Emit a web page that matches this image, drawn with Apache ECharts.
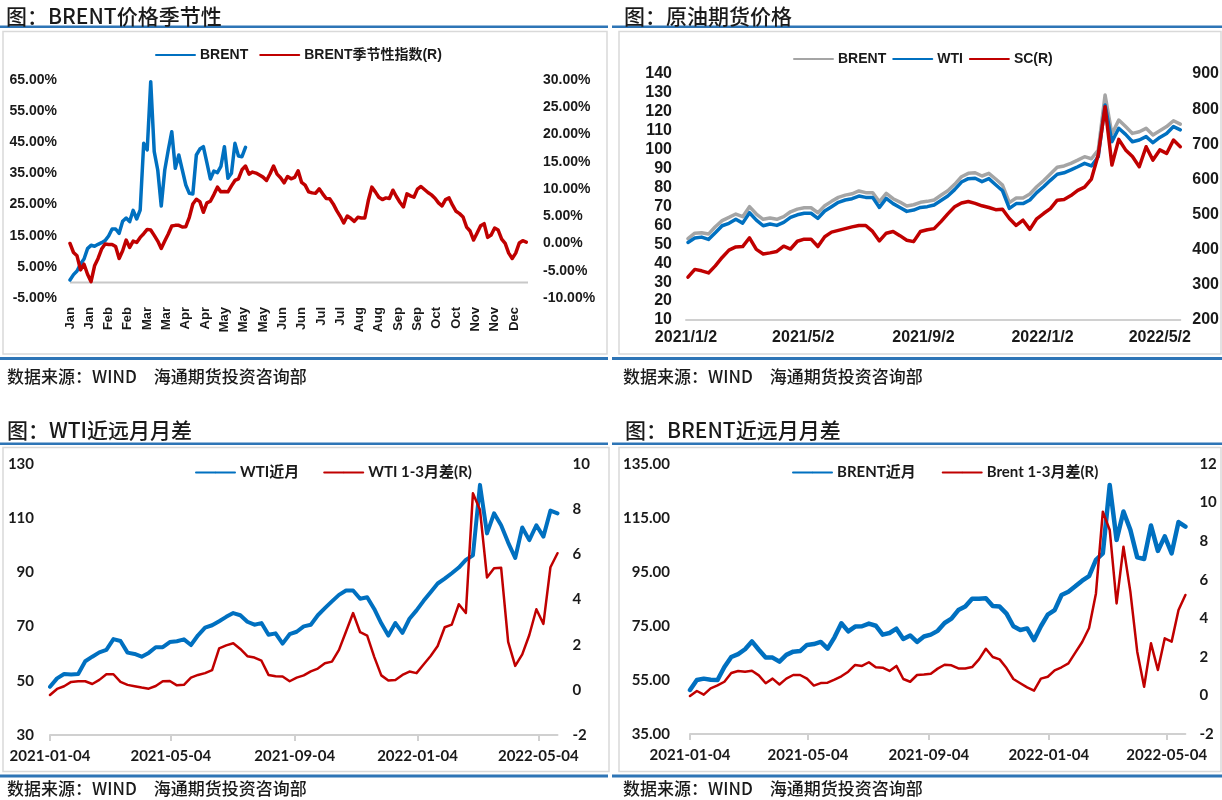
<!DOCTYPE html>
<html><head><meta charset="utf-8">
<script src="https://cdn.jsdelivr.net/npm/echarts@6/dist/echarts.min.js"></script>
<style>html,body{margin:0;padding:0;background:#fff;}#c{width:1222px;height:800px;}</style>
</head><body><div id="c"></div>
<script>
// ---------- Panel 1: BRENT seasonality (trading-day index, sampled every 2 days) ----------
const seasonLabels = ['Jan','Jan','Feb','Feb','Mar','Mar','Apr','Apr','May','May','May','Jun','Jun','Jul','Jul','Aug','Aug','Sep','Sep','Oct','Oct','Nov','Nov','Dec'];
const seasonStep = 11;      // trading days between two month labels
const seasonDays = 261;     // last trading-day index
const brentYtd = [0.79,2.50,3.68,5.93,7.53,10.85,11.92,11.60,12.24,12.77,13.42,14.91,17.16,17.16,15.77,19.62,20.69,19.52,23.15,20.37,23.26,44.66,42.52,64.46,41.99,36.10,24.54,36.10,42.52,48.41,36.64,40.92,36.10,31.29,28.61,28.40,40.92,42.84,43.59,38.45,33.21,35.78,35.24,37.28,43.59,33.43,35.03,44.66,40.59,40.38,43.38];
const brentSeasonIdx = [0.01,-1.65,-2.26,-4.84,-3.80,-5.64,-7.00,-4.10,-2.75,-1.03,-0.11,-0.17,-0.17,-0.54,-2.75,-1.34,0.63,-0.72,0.44,0.20,1.12,1.80,2.59,2.47,1.49,0.44,-0.91,0.44,1.73,3.21,3.33,3.33,3.02,3.09,4.81,7.26,8.12,7.69,5.73,7.45,7.76,8.98,10.34,9.48,9.54,9.48,10.58,11.57,11.87,13.53,14.21,12.73,13.10,12.92,12.55,12.18,11.57,12.79,14.21,12.73,12.06,11.13,12.30,11.87,12.12,13.35,11.20,10.70,9.48,9.29,9.23,10.03,9.11,8.25,8.19,7.26,6.04,4.99,3.76,5.05,4.62,4.07,4.81,4.68,4.68,7.88,10.34,9.48,8.49,8.06,8.37,8.25,9.78,8.62,7.57,6.71,9.11,8.74,8.49,9.97,10.46,9.91,9.35,8.92,8.31,7.45,6.89,8.06,8.37,7.02,5.91,5.48,4.87,3.02,2.29,0.63,1.92,3.27,3.64,1.12,1.55,2.84,2.47,0.81,0.01,-1.77,-2.75,-1.77,0.08,0.51,0.26];

// ---------- Weekly dates shared by the three time-series panels ----------
const weeks = ['2021-01-04','2021-01-11','2021-01-18','2021-01-25','2021-02-01','2021-02-08','2021-02-15','2021-02-22','2021-03-01','2021-03-08','2021-03-15','2021-03-22','2021-03-29','2021-04-05','2021-04-12','2021-04-19','2021-04-26','2021-05-03','2021-05-10','2021-05-17','2021-05-24','2021-05-31','2021-06-07','2021-06-14','2021-06-21','2021-06-28','2021-07-05','2021-07-12','2021-07-19','2021-07-26','2021-08-02','2021-08-09','2021-08-16','2021-08-23','2021-08-30','2021-09-06','2021-09-13','2021-09-20','2021-09-27','2021-10-04','2021-10-11','2021-10-18','2021-10-25','2021-11-01','2021-11-08','2021-11-15','2021-11-22','2021-11-29','2021-12-06','2021-12-13','2021-12-20','2021-12-27','2022-01-03','2022-01-10','2022-01-17','2022-01-24','2022-01-31','2022-02-07','2022-02-14','2022-02-21','2022-02-28','2022-03-07','2022-03-14','2022-03-21','2022-03-28','2022-04-04','2022-04-11','2022-04-18','2022-04-25','2022-05-02','2022-05-09','2022-05-16','2022-05-23'];

// ---------- Panel 2: crude futures prices ----------
const p2Ticks = ['2021-01-02','2021-05-02','2021-09-02','2022-01-02','2022-05-02'];
const brentPx = [53.0,55.9,56.1,55.4,59.3,62.5,64.2,66.0,64.6,69.9,66.0,63.2,63.9,63.2,64.6,67.2,68.6,69.3,69.3,66.7,70.4,72.7,74.8,76.0,76.7,78.2,77.3,77.3,72.5,76.9,74.1,72.3,70.2,70.9,72.2,72.7,73.4,75.9,78.3,81.7,85.7,87.5,87.8,86.1,87.5,84.5,81.3,72.0,74.5,74.5,76.6,80.4,83.6,87.1,90.7,91.4,92.8,94.5,96.3,95.2,99.8,128.9,108.3,115.7,112.2,108.6,109.5,111.3,107.8,110.0,112.2,115.3,113.5];
const wtiPx = [51.0,53.3,53.8,52.6,56.1,59.8,61.1,63.2,61.2,66.7,62.8,59.8,60.7,60.0,61.6,64.2,65.6,66.4,66.4,63.7,67.6,69.9,72.2,73.4,74.1,75.5,74.8,74.8,69.5,74.3,71.5,69.5,67.4,68.1,69.5,69.9,70.8,73.1,75.5,78.9,82.9,84.7,84.9,83.1,84.7,81.5,78.3,69.0,71.5,71.5,73.4,77.3,80.4,83.8,87.0,87.8,89.3,91.0,92.8,91.4,96.3,123.6,104.2,111.3,108.1,104.2,105.1,106.9,103.7,106.5,108.6,112.2,110.5];
const scPx = [322,344,340,334,354,378,399,408,409,434,401,388,391,395,410,402,424,430,430,409,437,450,455,460,465,469,469,452,425,447,452,440,427,423,452,457,460,480,502,522,533,537,532,525,520,514,515,489,469,484,458,488,503,517,541,543,554,569,578,601,670,807,641,714,684,665,636,693,655,684,674,712,693];

// ---------- Panel 3: WTI front month & 1-3 spread ----------
const p34Ticks = ['2021-01-04','2021-05-04','2021-09-04','2022-01-04','2022-05-04'];
const wtiNear = [47.8,50.9,52.5,52.3,52.5,57.2,58.9,60.5,61.4,65.4,64.7,60.4,59.9,58.9,60.3,62.4,62.4,64.3,64.6,65.3,63.2,66.8,69.6,70.5,72.0,73.6,75.0,74.2,71.8,70.7,71.3,67.0,67.5,63.7,67.2,68.1,70.1,70.7,74.2,76.8,79.3,81.7,83.3,83.3,80.3,80.8,76.5,71.2,66.7,71.3,67.7,72.9,76.0,79.5,82.7,85.9,87.7,89.7,91.8,94.6,96.3,122.3,104.4,111.8,107.4,101.0,95.3,106.6,101.9,107.4,103.2,112.8,111.8];
const wtiSpread = [-0.23,0.04,0.16,0.35,0.38,0.38,0.26,0.44,0.69,0.69,0.35,0.22,0.16,0.10,0.05,0.17,0.38,0.39,0.20,0.22,0.54,0.66,0.74,0.87,1.84,1.97,2.06,1.81,1.49,1.43,1.29,0.66,0.60,0.59,0.38,0.54,0.64,0.82,0.94,1.18,1.25,1.77,2.58,3.40,2.55,2.40,1.46,0.64,0.41,0.44,0.66,0.81,0.74,1.12,1.50,1.94,2.77,2.89,3.79,3.40,8.70,7.97,4.97,5.38,5.41,2.12,1.06,1.57,2.43,3.57,2.92,5.43,6.05];

// ---------- Panel 4: BRENT front month & 1-3 spread ----------
const brentNear = [51.3,55.0,55.5,55.1,55.0,59.8,63.5,64.6,66.4,69.3,66.2,63.3,63.3,61.8,64.3,65.5,65.7,68.0,68.3,69.1,66.6,70.8,76.0,73.0,74.8,74.9,75.9,75.1,71.8,72.4,74.0,70.2,71.5,69.1,71.1,71.8,73.2,76.1,77.7,80.9,82.2,85.1,85.1,85.3,82.4,82.2,79.6,74.9,73.5,74.1,69.8,74.9,79.2,80.9,86.5,87.7,89.7,91.8,93.5,99.5,101.9,127.2,106.9,117.4,110.6,100.4,99.8,112.2,102.8,108.2,101.9,113.5,111.8];
const brentSpread = [-0.03,0.23,0.04,0.37,0.52,0.71,1.16,1.27,1.23,1.28,1.04,0.63,0.87,0.57,0.87,1.06,1.06,0.87,0.51,0.64,0.66,0.82,0.99,1.23,1.58,1.53,1.72,1.46,1.44,1.27,1.53,0.85,0.71,1.06,1.09,1.13,1.39,1.59,1.56,1.40,1.40,1.47,1.87,2.42,1.99,1.87,1.42,0.85,0.63,0.42,0.25,0.87,0.97,1.30,1.46,1.66,2.22,2.77,3.50,5.29,9.53,8.58,4.77,7.71,5.38,2.27,0.45,2.70,1.32,2.96,2.79,4.43,5.21];

// ---------- build ----------
const ts = s => Date.parse(s);
const weekTs = weeks.map(ts);
const byWeek = vals => vals.map((v, i) => [weekTs[i], v]);
const byDay2 = vals => vals.map((v, i) => [i * 2, v]);
const seasonTicks = seasonLabels.map((_, i) => i * seasonStep);
const pad = n => (n < 10 ? '0' : '') + n;
const fmtSlash = v => { const d = new Date(v); return d.getUTCFullYear() + '/' + (d.getUTCMonth() + 1) + '/' + d.getUTCDate(); };
const fmtDash = v => { const d = new Date(v); return d.getUTCFullYear() + '-' + pad(d.getUTCMonth() + 1) + '-' + pad(d.getUTCDate()); };

const BLUE = '#0070C0', RED = '#C00000', GRAY = '#A5A5A5', RULE = '#2E75B6', BOX = '#D9D9D9', AX = '#D0D0D0', TXT = '#1a1a1a';
const F_ARIAL = "'Liberation Sans', Arial, 'Noto Sans CJK SC', sans-serif";
const F_CAL = "Lato, 'Noto Sans CJK SC', sans-serif";
const F_CJK = "'Noto Sans CJK SC', sans-serif";

const noLine = { show: false };
function yAx(grid, min, max, interval, pos, margin, font, size, fmt) {
  return {
    type: 'value', gridIndex: grid, min, max, interval, position: pos,
    axisLine: noLine, axisTick: noLine, splitLine: noLine,
    axisLabel: { margin, fontFamily: font, fontSize: size, fontWeight: 'bold', color: TXT, formatter: fmt }
  };
}
function dateAx(grid, min, max, ticks, fmt, margin, font, size, showTick) {
  return {
    type: 'value', gridIndex: grid, min: ts(min), max: ts(max), splitLine: noLine,
    axisLine: { onZero: false, lineStyle: { color: AX, width: 2 } },
    axisTick: showTick ? { show: true, customValues: ticks.map(ts), length: 6, lineStyle: { color: AX, width: 2 } } : noLine,
    axisLabel: { customValues: ticks.map(ts), formatter: fmt, margin, fontFamily: font, fontSize: size, fontWeight: 'bold', color: TXT }
  };
}
function line(name, x, y, data, color, width, z) {
  return { name, type: 'line', xAxisIndex: x, yAxisIndex: y, data, symbol: 'none', z,
    lineStyle: { color, width, join: 'round', cap: 'round' }, itemStyle: { color }, emphasis: { disabled: true } };
}
function legend(names, left, top, gap, font, size) {
  return { data: names, left, top, padding: 0, itemGap: gap, itemWidth: 39, itemHeight: 2, selectedMode: false,
    formatter: n => n.replace('\u200b', ''),
    textStyle: { fontFamily: font, fontSize: size, fontWeight: 'bold', color: TXT } };
}
const pct = v => v.toFixed(2) + '%';

const chart = echarts.init(document.getElementById('c'), null, { renderer: 'canvas', devicePixelRatio: 1 });
chart.setOption({
  animation: false,
  backgroundColor: '#fff',
  grid: [
    { left: 70, top: 80, width: 458, height: 218 },
    { left: 686, top: 74, width: 495.4, height: 246 },
    { left: 50, top: 464, width: 507.5, height: 271 },
    { left: 690, top: 464, width: 495.4, height: 270 }
  ],
  xAxis: [
    { type: 'value', gridIndex: 0, min: 0, max: seasonDays, splitLine: noLine, axisTick: noLine,
      axisLine: { show: false, onZero: false },
      axisLabel: { customValues: seasonTicks, formatter: v => seasonLabels[Math.round(v / seasonStep)] || '', rotate: 90, margin: 9,
        fontFamily: F_ARIAL, fontSize: 13, fontWeight: 'bold', color: TXT } },
    dateAx(1, '2021-01-02', '2022-05-23', p2Ticks, fmtSlash, 10, F_ARIAL, 16, false),
    dateAx(2, '2021-01-04', '2022-05-23', p34Ticks, fmtDash, 14, F_CAL, 15, true),
    dateAx(3, '2021-01-04', '2022-05-23', p34Ticks, fmtDash, 14, F_CAL, 15, true)
  ],
  yAxis: [
    yAx(0, -5, 65, 10, 'left', 13, F_ARIAL, 14, pct),
    yAx(0, -10, 30, 5, 'right', 15, F_ARIAL, 14, pct),
    yAx(1, 10, 140, 10, 'left', 14, F_ARIAL, 16),
    yAx(1, 200, 900, 100, 'right', 12, F_ARIAL, 16),
    yAx(2, 30, 130, 20, 'left', 16, F_CAL, 15),
    yAx(2, -2, 10, 2, 'right', 15, F_CAL, 15),
    yAx(3, 35, 135, 20, 'left', 20, F_CAL, 15, v => v.toFixed(2)),
    yAx(3, -2, 12, 2, 'right', 14, F_CAL, 15)
  ],
  legend: [
    legend(['BRENT', 'BRENT季节性指数(R)'], 155, 48, 11, F_ARIAL, 14),
    legend(['BRENT\u200b', 'WTI', 'SC(R)'], 793, 52, 6, F_ARIAL, 14),
    legend(['WTI近月', 'WTI 1-3月差(R)'], 195, 465, 24, F_CAL, 15),
    legend(['BRENT近月', 'Brent 1-3月差(R)'], 792, 465, 26, F_CAL, 15)
  ],
  series: [
    // category-axis line of the seasonality chart, crossing the left axis at 0
    { name: 'axis', type: 'line', xAxisIndex: 0, yAxisIndex: 0, data: [[0, 0], [seasonDays, 0]], symbol: 'none', silent: true, z: 1,
      lineStyle: { color: '#C8C8C8', width: 2 }, emphasis: { disabled: true } },
    line('BRENT', 0, 0, byDay2(brentYtd), BLUE, 3.5, 3),
    line('BRENT季节性指数(R)', 0, 1, byDay2(brentSeasonIdx), RED, 3.5, 4),
    line('BRENT\u200b', 1, 2, byWeek(brentPx), GRAY, 3.5, 2),
    line('WTI', 1, 2, byWeek(wtiPx), BLUE, 3.5, 3),
    line('SC(R)', 1, 3, byWeek(scPx), RED, 3.5, 4),
    line('WTI近月', 2, 4, byWeek(wtiNear), BLUE, 4, 2),
    line('WTI 1-3月差(R)', 2, 5, byWeek(wtiSpread), RED, 2.5, 3),
    line('BRENT近月', 3, 6, byWeek(brentNear), BLUE, 4.5, 2),
    line('Brent 1-3月差(R)', 3, 7, byWeek(brentSpread), RED, 2.5, 3)
  ],
  graphic: [
    { type: 'rect', silent: true, shape: { x: 3, y: 31.5, width: 604, height: 322.5 }, style: { fill: 'none', stroke: BOX, lineWidth: 1.5 } },
    { type: 'rect', silent: true, shape: { x: 619, y: 31.5, width: 602, height: 322.5 }, style: { fill: 'none', stroke: BOX, lineWidth: 1.5 } },
    { type: 'rect', silent: true, shape: { x: 3, y: 447.5, width: 606, height: 324 }, style: { fill: 'none', stroke: BOX, lineWidth: 1.5 } },
    { type: 'rect', silent: true, shape: { x: 619, y: 447.5, width: 602, height: 324 }, style: { fill: 'none', stroke: BOX, lineWidth: 1.5 } },
    { type: 'rect', silent: true, shape: { x: 0, y: 25.5, width: 608, height: 2.5 }, style: { fill: RULE } },
    { type: 'rect', silent: true, shape: { x: 612, y: 25.5, width: 610, height: 2.5 }, style: { fill: RULE } },
    { type: 'rect', silent: true, shape: { x: 0, y: 357, width: 608, height: 3 }, style: { fill: RULE } },
    { type: 'rect', silent: true, shape: { x: 612, y: 357, width: 610, height: 3 }, style: { fill: RULE } },
    { type: 'rect', silent: true, shape: { x: 0, y: 442.5, width: 608, height: 2.5 }, style: { fill: RULE } },
    { type: 'rect', silent: true, shape: { x: 612, y: 442.5, width: 610, height: 2.5 }, style: { fill: RULE } },
    { type: 'rect', silent: true, shape: { x: 0, y: 774.5, width: 608, height: 3 }, style: { fill: RULE } },
    { type: 'rect', silent: true, shape: { x: 612, y: 774.5, width: 610, height: 3 }, style: { fill: RULE } },
    { type: 'text', silent: true, x: 6, y: 16, style: { text: '图：BRENT价格季节性', font: '500 21px ' + F_CJK, fill: TXT, verticalAlign: 'middle' } },
    { type: 'text', silent: true, x: 624, y: 16, style: { text: '图：原油期货价格', font: '500 21px ' + F_CJK, fill: TXT, verticalAlign: 'middle' } },
    { type: 'text', silent: true, x: 7, y: 430.5, style: { text: '图：WTI近远月月差', font: '500 21px ' + F_CJK, fill: TXT, verticalAlign: 'middle' } },
    { type: 'text', silent: true, x: 625, y: 430.5, style: { text: '图：BRENT近远月月差', font: '500 21px ' + F_CJK, fill: TXT, verticalAlign: 'middle' } },
    { type: 'text', silent: true, x: 7, y: 377, style: { text: '数据来源：WIND　海通期货投资咨询部', font: '500 17px ' + F_CJK, fill: TXT, verticalAlign: 'middle' } },
    { type: 'text', silent: true, x: 623, y: 377, style: { text: '数据来源：WIND　海通期货投资咨询部', font: '500 17px ' + F_CJK, fill: TXT, verticalAlign: 'middle' } },
    { type: 'text', silent: true, x: 7, y: 789, style: { text: '数据来源：WIND　海通期货投资咨询部', font: '500 17px ' + F_CJK, fill: TXT, verticalAlign: 'middle' } },
    { type: 'text', silent: true, x: 623, y: 789, style: { text: '数据来源：WIND　海通期货投资咨询部', font: '500 17px ' + F_CJK, fill: TXT, verticalAlign: 'middle' } }
  ]
});
</script></body></html>
